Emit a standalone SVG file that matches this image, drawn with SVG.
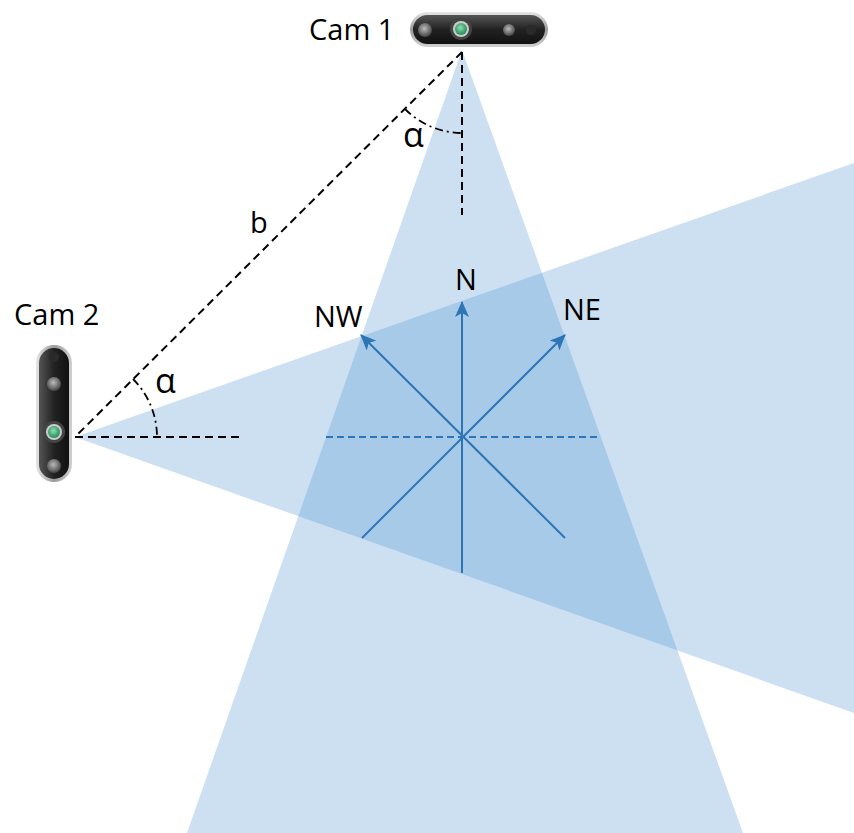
<svg xmlns="http://www.w3.org/2000/svg" width="854" height="833" viewBox="0 0 854 833">
  <defs>
    <style>
      .cone { fill: #5598d5; fill-opacity: 0.3; }
      .dash { fill: none; stroke: #000; stroke-width: 2; stroke-dasharray: 8 5; }
      .arc { fill: none; stroke: #000; stroke-width: 1.8; stroke-dasharray: 8 4 2 4; }
      .axis { fill: none; stroke: #2e75b6; stroke-width: 2; }
      .axisdash { fill: none; stroke: #2e75b6; stroke-width: 2; stroke-dasharray: 7 4; }
      .lbl { font-family: "Open Sans", "Liberation Sans", sans-serif; font-size: 29px; fill: #000; }
      .greek { font-size: 34px; }
    </style>
    <marker id="arrow" viewBox="0 0 16 14" refX="15" refY="7" markerWidth="16" markerHeight="14" markerUnits="userSpaceOnUse" orient="auto">
      <path d="M0,0 L16,7 L0,14 L4,7 Z" fill="#2e75b6"/>
    </marker>
    <linearGradient id="shell" x1="0" y1="0" x2="0" y2="1">
      <stop offset="0" stop-color="#e6e6e6"/>
      <stop offset="0.5" stop-color="#9a9a9a"/>
      <stop offset="1" stop-color="#d0d0d0"/>
    </linearGradient>
    <linearGradient id="shellV" x1="0" y1="0" x2="1" y2="0">
      <stop offset="0" stop-color="#e6e6e6"/>
      <stop offset="0.5" stop-color="#9a9a9a"/>
      <stop offset="1" stop-color="#d0d0d0"/>
    </linearGradient>
    <linearGradient id="face" x1="0" y1="0" x2="0" y2="1">
      <stop offset="0" stop-color="#555"/>
      <stop offset="0.5" stop-color="#222"/>
      <stop offset="1" stop-color="#111"/>
    </linearGradient>
    <linearGradient id="faceV" x1="0" y1="0" x2="1" y2="0">
      <stop offset="0" stop-color="#555"/>
      <stop offset="0.5" stop-color="#222"/>
      <stop offset="1" stop-color="#111"/>
    </linearGradient>
    <radialGradient id="green" cx="0.45" cy="0.4" r="0.6">
      <stop offset="0" stop-color="#8fe0b0"/>
      <stop offset="1" stop-color="#1f8a55"/>
    </radialGradient>
    <radialGradient id="lens" cx="0.45" cy="0.4" r="0.6">
      <stop offset="0" stop-color="#bbb"/>
      <stop offset="1" stop-color="#444"/>
    </radialGradient>
  </defs>

  <!-- fields of view -->
  <g id="fov-cam1">
    <polygon class="cone" points="462,50 187,833 743,833"/>
  </g>
  <g id="fov-cam2">
    <polygon class="cone" points="75,437 854,163 854,713"/>
  </g>

  <!-- connectors -->
  <g id="connectors">
    <line class="dash" x1="462" y1="52" x2="75" y2="437"/>
    <line class="dash" x1="462" y1="52" x2="462" y2="215"/>
    <line class="dash" x1="75" y1="437" x2="240" y2="437"/>
    <path class="arc" d="M405,109 A81,81 0 0 0 462,133"/>
    <path class="arc" d="M133,379 A82,82 0 0 1 157,437"/>
    <line class="axisdash" x1="326" y1="437" x2="600" y2="437"/>
    <line class="axis" x1="462" y1="573" x2="462" y2="302" marker-end="url(#arrow)"/>
    <line class="axis" x1="565" y1="538" x2="361" y2="335" marker-end="url(#arrow)"/>
    <line class="axis" x1="362" y1="538" x2="565" y2="335" marker-end="url(#arrow)"/>
  </g>

  <!-- camera 1 (horizontal) -->
  <g id="cam1">
    <rect x="410" y="12" width="138" height="35" rx="17.5" fill="url(#shell)"/>
    <rect x="413" y="15" width="132" height="29" rx="14.5" fill="url(#face)"/>
    <circle cx="425" cy="30" r="7" fill="url(#lens)"/>
    <circle cx="461" cy="29" r="11" fill="#444"/>
    <circle cx="461" cy="29" r="8" fill="#ccc"/>
    <circle cx="461" cy="29" r="6" fill="url(#green)"/>
    <circle cx="509" cy="30" r="6" fill="url(#lens)"/>
    <circle cx="531" cy="30" r="5" fill="#2a2a2a"/>
    <text class="lbl" x="309" y="40">Cam 1</text>
  </g>

  <!-- camera 2 (vertical) -->
  <g id="cam2">
    <rect x="36" y="345" width="36" height="137" rx="18" fill="url(#shellV)"/>
    <rect x="39" y="348" width="30" height="131" rx="15" fill="url(#faceV)"/>
    <circle cx="54" cy="357" r="5" fill="#2a2a2a"/>
    <circle cx="54" cy="384" r="7" fill="url(#lens)"/>
    <circle cx="54" cy="432" r="11" fill="#444"/>
    <circle cx="54" cy="432" r="8" fill="#ccc"/>
    <circle cx="54" cy="432" r="6" fill="url(#green)"/>
    <circle cx="54" cy="466" r="7" fill="url(#lens)"/>
    <text class="lbl" x="14" y="325">Cam 2</text>
  </g>

  <!-- labels -->
  <g id="labels">
    <text class="lbl greek" x="403" y="147">α</text>
    <text class="lbl greek" x="155" y="393">α</text>
    <text class="lbl" x="250" y="233">b</text>
    <text class="lbl" x="455" y="290">N</text>
    <text class="lbl" x="314" y="327">NW</text>
    <text class="lbl" x="563" y="320">NE</text>
  </g>
</svg>
